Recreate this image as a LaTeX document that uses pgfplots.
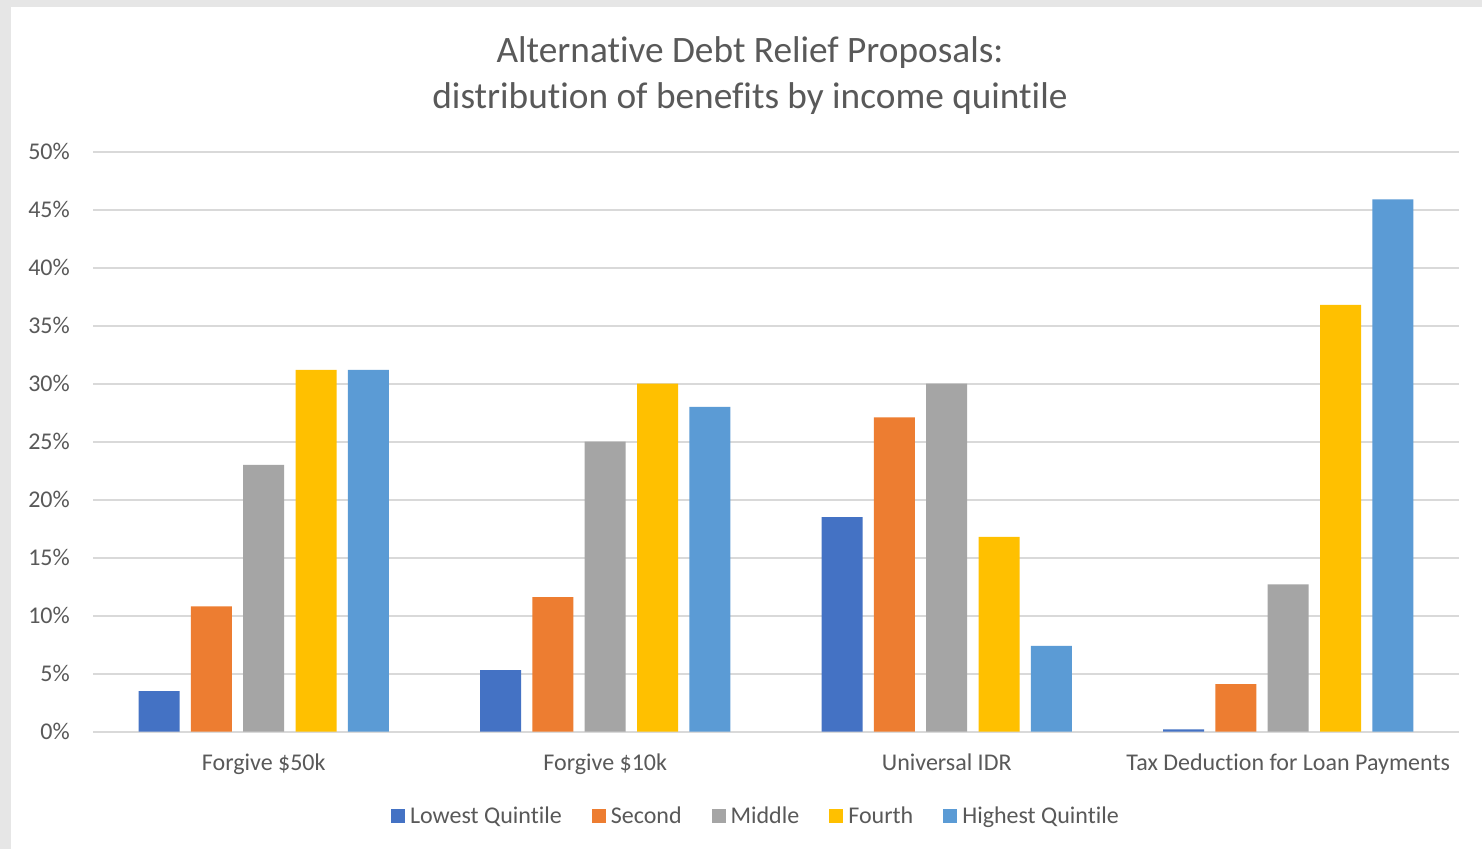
\documentclass[border=0pt]{standalone}
\usepackage{pgfplots}
\pgfplotsset{compat=1.18}
\usepackage{fontspec}
\setmainfont{Carlito}[RawFeature=-liga]
\definecolor{c1}{HTML}{4472C4}
\definecolor{c2}{HTML}{ED7D31}
\definecolor{c3}{HTML}{A5A5A5}
\definecolor{c4}{HTML}{FFC000}
\definecolor{c5}{HTML}{5B9BD5}
\definecolor{txt}{HTML}{595959}
\definecolor{gridc}{HTML}{D9D9D9}
\definecolor{bg}{HTML}{E6E6E6}
\begin{document}
\begin{tikzpicture}[x=1pt,y=1pt]
\useasboundingbox (0,0) rectangle (1482,849);
\fill[bg] (0,0) rectangle (1482,849);
\fill[white] (11,0) rectangle (1482,842);
\node[anchor=base, text=txt, font=\fontsize{37.3}{46}\selectfont, inner sep=0pt] at (750,786.5) {Alternative Debt Relief Proposals:};
\node[anchor=base, text=txt, font=\fontsize{37.3}{46}\selectfont, inner sep=0pt] at (750,740.5) {distribution of benefits by income quintile};
\begin{axis}[
  at={(93pt,117.3pt)}, anchor=south west,
  scale only axis, width=1366pt, height=580pt,
  xmin=-0.5, xmax=3.5, ymin=0, ymax=50,
  ybar=11.3pt, bar width=41pt,
  axis lines*=left,
  y axis line style={draw=none},
  x axis line style={gridc, line width=1.6pt},
  ytick={0,5,...,50},
  yticklabels={0\%,5\%,10\%,15\%,20\%,25\%,30\%,35\%,40\%,45\%,50\%},
  ymajorgrids, major grid style={gridc, line width=1.6pt},
  xtick={0,1,2,3},
  xticklabels={Forgive \$50k, Forgive \$10k, Universal IDR, Tax Deduction for Loan Payments},
  major tick length=0pt, tick style={draw=none},
  ticklabel style={font=\fontsize{24}{29}\selectfont, text=txt},
  yticklabel style={anchor=base east, inner sep=0pt, xshift=-23pt, yshift=-7.6pt},
  xticklabel style={anchor=base, inner sep=0pt, yshift=-38.3pt},
  legend columns=5,
  legend cell align=left,
  legend image code/.code={\fill[#1] (0pt,-7pt) rectangle (14pt,7pt);},
  legend style={at={(0.4846,-0.1453)}, anchor=center, draw=none, fill=none,
    inner sep=0pt, outer sep=0pt, font=\fontsize{24}{29}\selectfont, text=txt,
    column sep=5pt,
    /tikz/every even column/.append style={column sep=30pt},
    nodes={inner sep=0pt, text height=14.6pt, text depth=0pt}},
]
\addplot[fill=c1, draw=none] coordinates {(0,3.5) (1,5.3) (2,18.5) (3,0.2)};
\addplot[fill=c2, draw=none] coordinates {(0,10.8) (1,11.6) (2,27.1) (3,4.1)};
\addplot[fill=c3, draw=none] coordinates {(0,23.0) (1,25.0) (2,30.0) (3,12.7)};
\addplot[fill=c4, draw=none] coordinates {(0,31.2) (1,30.0) (2,16.8) (3,36.8)};
\addplot[fill=c5, draw=none] coordinates {(0,31.2) (1,28.0) (2,7.4) (3,45.9)};
\legend{Lowest Quintile, Second, Middle, Fourth, Highest Quintile}
\end{axis}
\end{tikzpicture}
\end{document}
